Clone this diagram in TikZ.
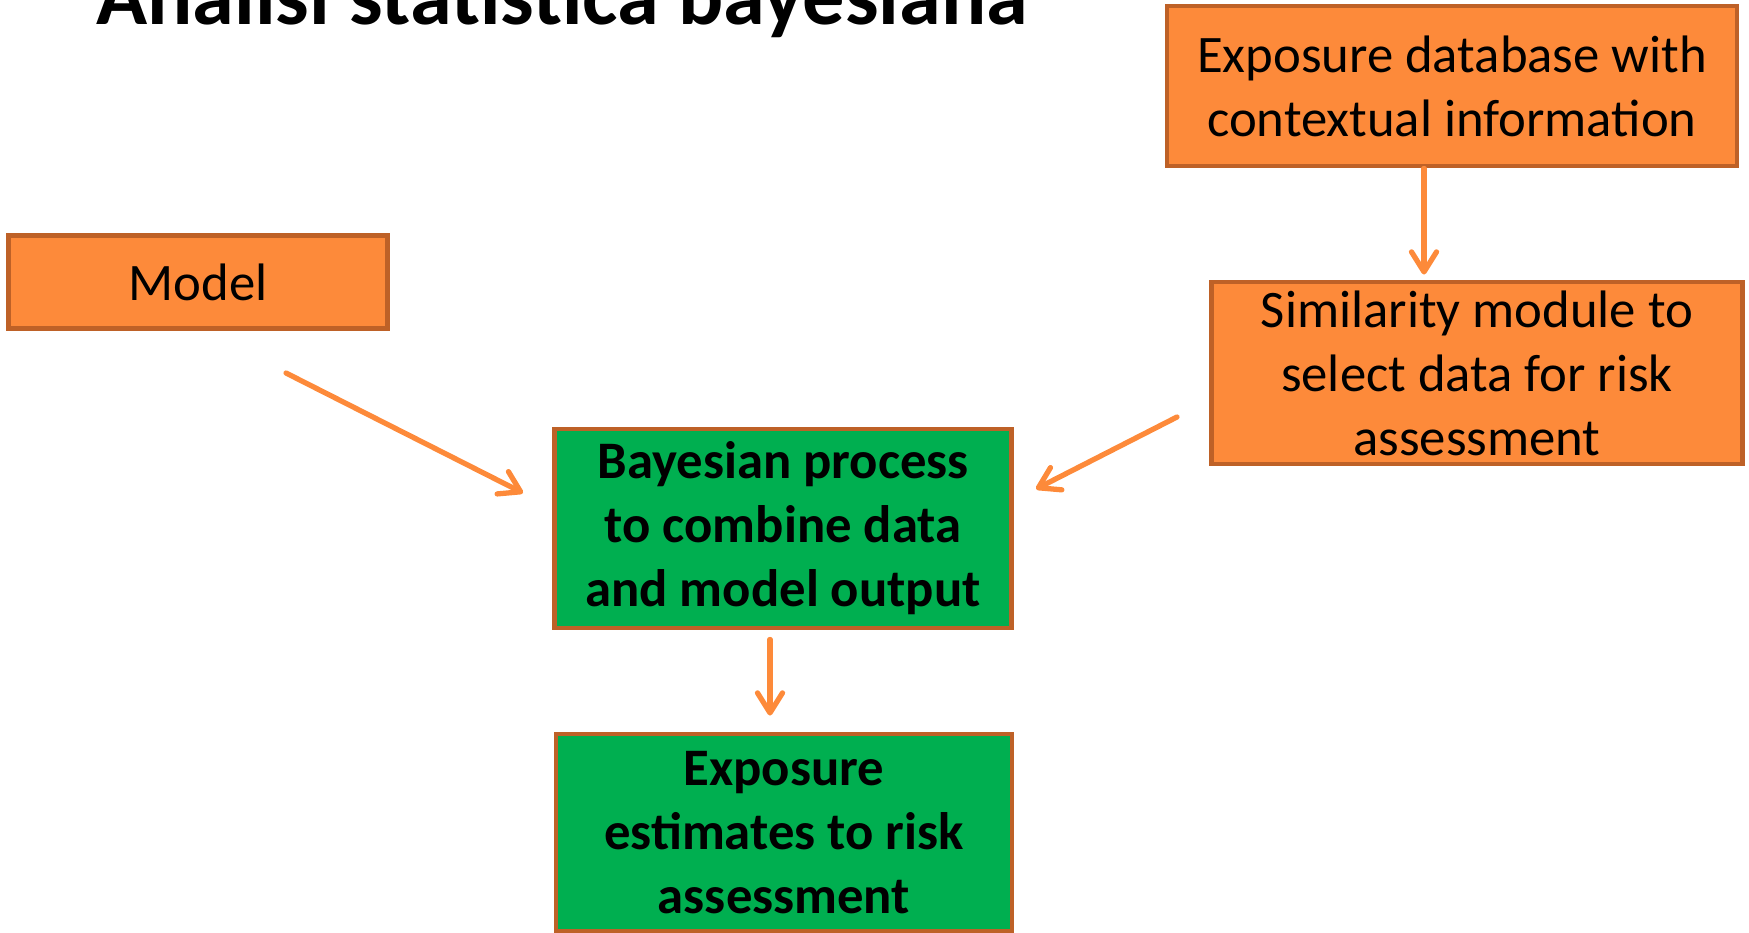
\documentclass[tikz,border=0pt]{standalone}
\usepackage{fontspec}
\setmainfont{Carlito}
\usetikzlibrary{arrows.meta,positioning,calc}
\definecolor{boxorange}{HTML}{FD8A3A}
\definecolor{boxedge}{HTML}{BE6127}
\definecolor{linkorange}{HTML}{FD8A3A}
\definecolor{boxgreen}{HTML}{00AF50}
\tikzset{
  inbox/.style={draw=boxedge, line width=1.4pt, fill=boxorange, align=center,
    inner sep=0pt, font=\fontsize{15}{18.2}\selectfont},
  outbox/.style={inbox, fill=boxgreen, font=\fontsize{15}{18.2}\selectfont\bfseries},
  link/.style={draw=linkorange, line width=1.5pt, line cap=round,
    -{Straight Barb[length=2mm,width=2.5mm,round]}}
}

\begin{document}
\begin{tikzpicture}
\useasboundingbox (0,0) rectangle (17.49,9.32);
\clip (0,0) rectangle (17.49,9.32);

% title, cut at the top edge
\node[anchor=base, font=\fontsize{24}{28}\selectfont\bfseries] (title) at (5.62,9.07)
    {Analisi statistica bayesiana};

% inputs
\node[inbox, minimum width=3.79cm, minimum height=0.93cm] (model) at (1.98,6.50) {Model};
\node[inbox, minimum width=5.70cm, minimum height=1.60cm] (db) at (14.52,8.46)
    {Exposure database with\\contextual information};
\node[inbox, minimum width=5.31cm, minimum height=1.82cm] (sim) at (14.77,5.59)
    {Similarity module to\\select data for risk\\assessment};

% bayesian step and result
\node[outbox, minimum width=4.57cm, minimum height=1.99cm] (bayes) at (7.83,4.035)
    {Bayesian process\\to combine data\\and model output};
\node[outbox, minimum width=4.56cm, minimum height=1.97cm] (est) at (7.84,0.995)
    {Exposure\\estimates to risk\\assessment};

% free arrow ends
\coordinate (modelout) at (2.86,5.59);
\coordinate (bayesinl) at (5.23,4.39);
\coordinate (simout) at (11.77,5.15);
\coordinate (bayesinr) at (10.36,4.43);

\draw[link] (modelout) -- (bayesinl);
\draw[link] (simout) -- (bayesinr);
\draw[link, shorten >=0.05cm] ([xshift=-0.28cm]db.south) -- ([xshift=-0.28cm]db.south |- sim.north);
\draw[link, shorten <=0.09cm, shorten >=0.16cm] ([xshift=-0.13cm]bayes.south) -- ([xshift=-0.13cm]bayes.south |- est.north);
\end{tikzpicture}
\end{document}
